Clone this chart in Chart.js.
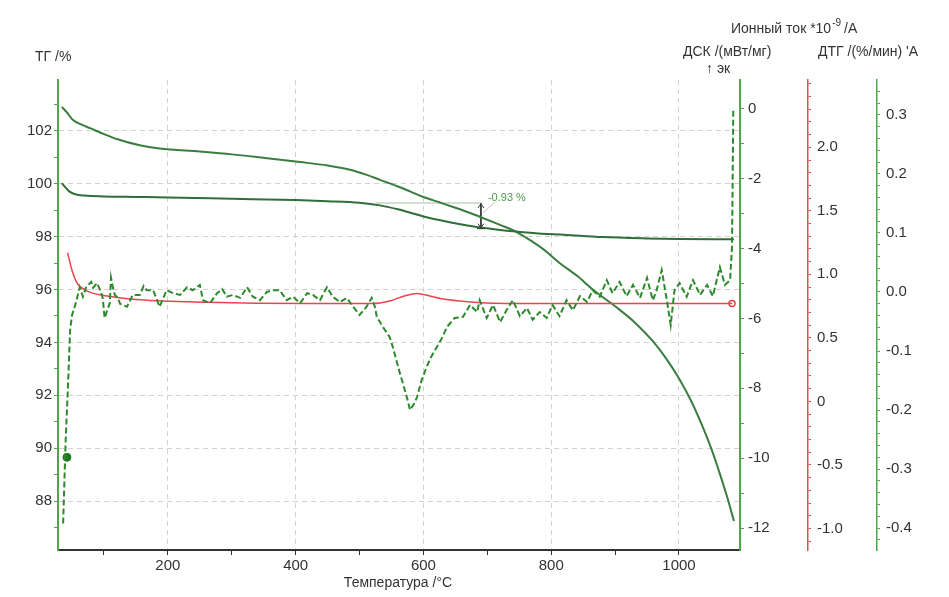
<!DOCTYPE html>
<html>
<head>
<meta charset="utf-8">
<script src="https://cdn.jsdelivr.net/npm/chart.js@4.4.1/dist/chart.umd.min.js"></script>
<style>
  html, body { margin: 0; padding: 0; background: #fff; }
</style>
</head>
<body>
<canvas id="chart" width="949" height="597"></canvas>
<script>
// ТГ (lower smooth curve), %
const tgTemp = [34, 40, 46, 55, 70, 100, 150, 200, 300, 400, 450, 500, 532, 560, 580, 600, 630, 660, 690, 720, 740, 780, 820, 880, 950, 1000, 1086];
const tgVal  = [100.02, 99.85, 99.7, 99.6, 99.55, 99.52, 99.5, 99.48, 99.43, 99.38, 99.34, 99.28, 99.18, 99.03, 98.9, 98.76, 98.6, 98.46, 98.34, 98.25, 98.2, 98.12, 98.07, 97.98, 97.93, 97.91, 97.9];

// Ионный ток (upper smooth curve), *10^-9 A
const ionTemp = [34, 42, 51, 65, 78, 100, 120, 156, 187, 250, 300, 350, 407, 450, 485, 510, 532, 560, 579, 600, 626, 650, 673, 690, 720, 740, 762, 790, 813, 840, 865, 900, 930, 959, 980, 1001, 1020, 1037, 1050, 1064, 1076, 1086];
const ionVal  = [0.06, -0.1, -0.31, -0.45, -0.55, -0.72, -0.86, -1.04, -1.13, -1.22, -1.3, -1.4, -1.52, -1.62, -1.74, -1.88, -2.03, -2.22, -2.36, -2.52, -2.68, -2.83, -2.98, -3.1, -3.32, -3.47, -3.7, -4.05, -4.41, -4.77, -5.17, -5.65, -6.1, -6.65, -7.15, -7.75, -8.4, -9.1, -9.7, -10.45, -11.15, -11.8];

// ДСК, мВт/мг
const dscTemp = [43, 50, 58, 73, 105, 156, 261, 418, 521, 547, 570, 590, 610, 626, 657, 700, 800, 1083];
const dscVal  = [1.17, 1.03, 0.93, 0.87, 0.83, 0.80, 0.78, 0.77, 0.77, 0.79, 0.83, 0.85, 0.83, 0.81, 0.79, 0.775, 0.77, 0.77];

// ДТГ, %/мин (noisy dashed curve)
const dtgTemp = [36, 40, 44, 47, 50, 55, 58, 62, 67, 72, 80, 83, 89, 94, 98, 101, 109, 111, 114, 117, 122, 125, 136, 145, 156, 162, 167, 177, 187, 198,
  208, 219, 230, 239, 250, 255, 266, 277, 285, 292, 302, 313, 324, 333, 344, 355, 364, 375, 386, 396, 407, 418, 427, 438, 449, 458, 469, 480, 490, 500,
  511, 519, 524, 527, 537, 547, 552, 563, 574, 579, 585, 590, 597, 605, 612, 621, 628, 637, 649, 662, 673, 684, 688, 699, 709, 720, 730, 740, 751, 762,
  771, 782, 793, 802, 813, 824, 834, 845, 856, 865, 876, 887, 896, 907, 918, 928, 939, 950, 959, 965, 973, 981, 987, 993, 1001, 1012, 1022, 1033, 1044, 1053,
  1064, 1072, 1080, 1083, 1085];
const dtgVal = [-0.392, -0.251, -0.149, -0.064, -0.039, -0.022, -0.010, 0.008, -0.008, 0.008, 0.017, 0.007, 0.015, 0.003, -0.010, -0.044, -0.019, 0.024, 0.007, -0.005, -0.010, -0.020, -0.025, -0.005, -0.005, 0.010, 0.003, 0.003, -0.025, 0.003,
  -0.002, -0.005, 0.008, 0.003, 0.012, -0.014, -0.019, -0.002, 0.005, -0.008, -0.005, -0.010, 0.008, -0.008, -0.014, 0.000, 0.003, 0.003, -0.014, -0.008, -0.019, -0.002, -0.005, -0.014, 0.008, -0.008, -0.017, -0.010, -0.025, -0.039,
  -0.025, -0.010, -0.025, -0.042, -0.060, -0.076, -0.093, -0.137, -0.178, -0.200, -0.190, -0.178, -0.150, -0.127, -0.110, -0.093, -0.080, -0.059, -0.044, -0.042, -0.022, -0.034, -0.014, -0.044, -0.022, -0.051, -0.031, -0.014, -0.041, -0.027,
  -0.047, -0.034, -0.044, -0.022, -0.041, -0.014, -0.031, -0.007, -0.017, 0.003, -0.008, 0.020, -0.002, 0.017, -0.007, 0.012, -0.010, 0.024, -0.014, 0.003, 0.037, -0.014, -0.056, 0.003, 0.015, -0.008, 0.020, -0.005, 0.012, -0.007,
  0.042, 0.012, 0.020, 0.076, 0.308];
const dtgMarkTemp = [42];
const dtgMarkVal = [-0.28];

// mass step annotation
const stepTemp = [525, 690];
const stepTG = [99.27, 98.3];
const stepLabel = '-0.93 %';

// axis ticks and labels
const tempTicks = [200, 400, 600, 800, 1000];
const tempLabels = ['200', '400', '600', '800', '1000'];
const tgTicks = [88, 90, 92, 94, 96, 98, 100, 102];
const tgLabels = ['88', '90', '92', '94', '96', '98', '100', '102'];
const ionTicks = [-12, -10, -8, -6, -4, -2, 0];
const ionLabels = ['-12', '-10', '-8', '-6', '-4', '-2', '0'];
const dscTicks = [-1.0, -0.5, 0, 0.5, 1.0, 1.5, 2.0];
const dscLabels = ['-1.0', '-0.5', '0', '0.5', '1.0', '1.5', '2.0'];
const dtgTicks = [-0.4, -0.3, -0.2, -0.1, 0.0, 0.1, 0.2, 0.3];
const dtgLabels = ['-0.4', '-0.3', '-0.2', '-0.1', '0.0', '0.1', '0.2', '0.3'];

const FONT = '"Liberation Sans", Arial, sans-serif';
const GREEN_AX = '#4ca64c';
const RED = '#e8464e';

const pts = (xs, ys) => xs.map((x, i) => ({ x: x, y: ys[i] }));
const isIn = (list, v) => list.some(m => Math.abs(m - v) < 1e-6);

function buildTicks(step, lo, hi) {
  return axis => {
    const out = [];
    for (let n = Math.ceil(lo / step - 1e-9); n <= Math.floor(hi / step + 1e-9); n++) {
      out.push({ value: +(n * step).toFixed(4) });
    }
    axis.ticks = out;
  };
}
function labelFor(list, labels) {
  return v => {
    const i = list.findIndex(m => Math.abs(m - v) < 1e-6);
    return i < 0 ? '' : labels[i];
  };
}
function fitWidth(w) {
  return s => { s.width = w; s.paddingTop = 0; s.paddingBottom = 0; };
}

const tickFont = { family: FONT, size: 15 };

const texts = {
  id: 'texts',
  afterDraw(chart) {
    const ctx = chart.ctx;
    const sx = chart.scales.x, sy = chart.scales.yTG;
    ctx.save();
    ctx.fillStyle = '#333';
    ctx.textBaseline = 'middle';
    ctx.textAlign = 'left';
    ctx.font = '14px ' + FONT;
    ctx.fillText('ТГ /%', 35, 57);
    let px = 731;
    const s1 = 'Ионный ток *10';
    ctx.fillText(s1, px, 29);
    px += ctx.measureText(s1).width + 1;
    ctx.font = '10px ' + FONT;
    ctx.fillText('-9', px, 23);
    px += ctx.measureText('-9').width + 3;
    ctx.font = '14px ' + FONT;
    ctx.fillText('/A', px, 29);
    ctx.fillText('ДСК /(мВт/мг)', 683, 52);
    ctx.fillText('ДТГ /(%/мин) \'A', 818, 52);
    ctx.fillText('↑ эк', 706, 69);
    ctx.textAlign = 'center';
    ctx.fillText('Температура /°C', 398, 583);

    // step annotation arrow and label
    const ax = sx.getPixelForValue(stepTemp[1]);
    const ay1 = sy.getPixelForValue(stepTG[0]);
    const ay2 = sy.getPixelForValue(stepTG[1]);
    ctx.strokeStyle = '#333';
    ctx.lineWidth = 1;
    ctx.beginPath();
    ctx.moveTo(ax - 3, ay1 + 5); ctx.lineTo(ax, ay1 + 1); ctx.lineTo(ax + 3, ay1 + 5);
    ctx.moveTo(ax - 3, ay2 - 5); ctx.lineTo(ax, ay2 - 1); ctx.lineTo(ax + 3, ay2 - 5);
    ctx.moveTo(ax - 4, ay2); ctx.lineTo(ax + 4, ay2);
    ctx.stroke();
    ctx.strokeStyle = '#b8c8b8';
    ctx.beginPath();
    ctx.moveTo(ax + 2, ay1 + 10); ctx.lineTo(ax + 14, ay1 - 1);
    ctx.stroke();
    ctx.fillStyle = '#4f9a4f';
    ctx.textAlign = 'left';
    ctx.font = '11px ' + FONT;
    ctx.fillText(stepLabel, ax + 7, ay1 - 5);
    ctx.restore();
  }
};

new Chart(document.getElementById('chart'), {
  type: 'line',
  data: {
    datasets: [{
      label: 'ДТГ',
      data: pts(dtgTemp, dtgVal),
      yAxisID: 'yDTG',
      borderColor: '#2b8a2b',
      borderWidth: 2,
      borderDash: [6, 3],
      pointRadius: 0,
      tension: 0
    }, {
      label: 'ДТГ marker',
      data: pts(dtgMarkTemp, dtgMarkVal),
      yAxisID: 'yDTG',
      showLine: false,
      pointRadius: 4,
      pointBackgroundColor: '#1f7a1f',
      pointBorderColor: '#1f7a1f'
    }, {
      label: 'ДСК',
      data: pts(dscTemp, dscVal),
      yAxisID: 'yDSC',
      borderColor: RED,
      borderWidth: 1.5,
      pointRadius: c => c.dataIndex === dscTemp.length - 1 ? 3 : 0,
      pointBorderColor: RED,
      pointBackgroundColor: 'rgba(255,255,255,0)',
      cubicInterpolationMode: 'monotone'
    }, {
      label: 'ТГ',
      data: pts(tgTemp, tgVal),
      yAxisID: 'yTG',
      borderColor: '#2f6e38',
      borderWidth: 2,
      pointRadius: 0,
      cubicInterpolationMode: 'monotone'
    }, {
      label: 'Ионный ток',
      data: pts(ionTemp, ionVal),
      yAxisID: 'yIon',
      borderColor: '#3a7d40',
      borderWidth: 2,
      pointRadius: 0,
      cubicInterpolationMode: 'monotone'
    }, {
      label: 'step level',
      data: [{ x: stepTemp[0], y: stepTG[0] }, { x: stepTemp[1], y: stepTG[0] }],
      yAxisID: 'yTG',
      borderColor: '#a9bfa9',
      borderWidth: 1,
      pointRadius: 0
    }, {
      label: 'step',
      data: [{ x: stepTemp[1], y: stepTG[0] }, { x: stepTemp[1], y: stepTG[1] }],
      yAxisID: 'yTG',
      borderColor: '#333',
      borderWidth: 1,
      pointRadius: 0
    }]
  },
  options: {
    responsive: false,
    animation: false,
    layout: { padding: { top: 80, left: 0, right: 0, bottom: 0 } },
    plugins: { legend: { display: false }, tooltip: { enabled: false } },
    scales: {
      x: {
        type: 'linear', position: 'bottom', min: 28, max: 1095.5, bounds: 'data',
        afterBuildTicks: buildTicks(100, 28, 1095.5),
        afterFit: s => { s.height = 47; s.paddingLeft = 0; s.paddingRight = 0; },
        ticks: { autoSkip: false, maxRotation: 0, padding: 2, color: '#333', font: tickFont, callback: labelFor(tempTicks, tempLabels) },
        grid: { color: c => (c.tick && isIn(tempTicks, c.tick.value)) ? '#d2d2d2' : 'rgba(0,0,0,0)', tickColor: '#333', tickLength: 5, lineWidth: 1 },
        border: { color: '#333', width: 2, dash: [5, 4] }
      },
      yTG: {
        type: 'linear', position: 'left', min: 86.15, max: 103.92, bounds: 'data',
        afterBuildTicks: buildTicks(1, 86.15, 103.92),
        afterFit: fitWidth(58),
        ticks: { autoSkip: false, padding: 2, color: '#333', font: tickFont, callback: labelFor(tgTicks, tgLabels) },
        grid: { color: c => (c.tick && isIn(tgTicks, c.tick.value)) ? '#d2d2d2' : 'rgba(0,0,0,0)', tickColor: GREEN_AX, tickLength: 4, lineWidth: 1 },
        border: { color: GREEN_AX, width: 2, dash: [5, 4] }
      },
      yIon: {
        type: 'linear', position: 'right', weight: 0, min: -12.63, max: 0.83, bounds: 'data',
        afterBuildTicks: buildTicks(1, -12.63, 0.83),
        afterFit: fitWidth(68),
        ticks: { autoSkip: false, padding: 4, color: '#333', font: tickFont, callback: labelFor(ionTicks, ionLabels) },
        grid: { drawOnChartArea: false, tickColor: GREEN_AX, tickLength: 4 },
        border: { color: GREEN_AX, width: 2 }
      },
      yDSC: {
        type: 'linear', position: 'right', weight: 1, min: -1.17, max: 2.53, bounds: 'data',
        afterBuildTicks: buildTicks(0.1, -1.17, 2.53),
        afterFit: fitWidth(69),
        ticks: { autoSkip: false, padding: 6, color: '#333', font: tickFont, callback: labelFor(dscTicks, dscLabels) },
        grid: { drawOnChartArea: false, tickColor: RED, tickLength: 3 },
        border: { color: RED, width: 1.5 }
      },
      yDTG: {
        type: 'linear', position: 'right', weight: 2, min: -0.437, max: 0.359, bounds: 'data',
        afterBuildTicks: buildTicks(0.02, -0.437, 0.359),
        afterFit: fitWidth(72),
        ticks: { autoSkip: false, padding: 6, color: '#333', font: tickFont, callback: labelFor(dtgTicks, dtgLabels) },
        grid: { drawOnChartArea: false, tickColor: GREEN_AX, tickLength: 3 },
        border: { color: GREEN_AX, width: 1.5 }
      }
    }
  },
  plugins: [texts]
});
</script>
</body>
</html>
